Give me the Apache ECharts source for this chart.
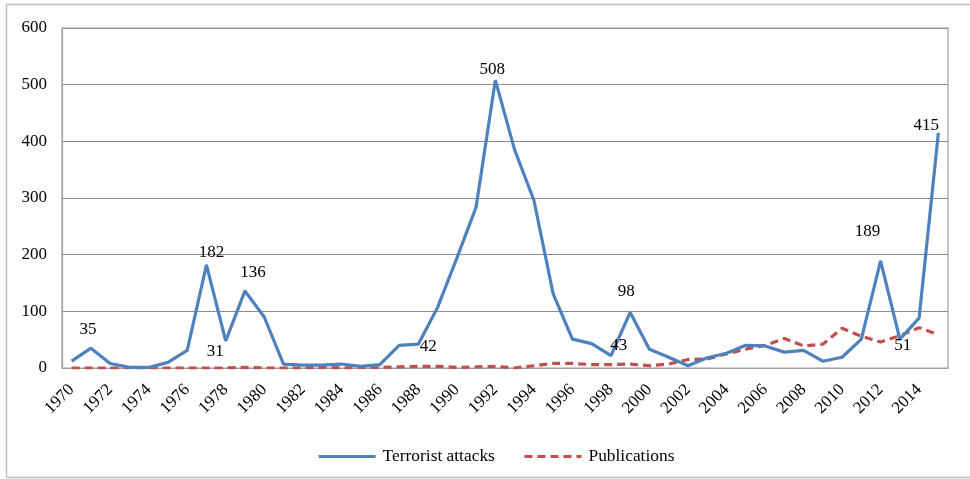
<!DOCTYPE html>
<html>
<head>
<meta charset="utf-8">
<script src="https://cdn.jsdelivr.net/npm/echarts@6/dist/echarts.min.js"></script>
<style>
html,body{margin:0;padding:0;background:#fff;}
#chart{width:970px;height:479px;}
</style>
</head>
<body>
<div id="chart"></div>
<script>
var years = [];
for (var y = 1970; y <= 2015; y++) years.push(String(y));

var terroristAttacks = [12,35,8,1,1,10,31,182,48,136,90,7,5,5,7,3,6,40,42,107,194,284,508,385,296,131,51,43,22,98,33,19,4,18,26,40,39,28,31,12,19,51,189,51,88,415];
var publications = [0,0,0,0,0,0,0,0,0,1,0,0,0,1,0,1,1,2,3,3,1,2,3,0,4,8,8,6,6,7,4,7,15,16,25,33,40,52,39,42,70,56,46,57,71,59];

var yTicks = [0,100,200,300,400,500,600];

// label placement (offset of label centre from point), styling only
var labelOffsets = {
  '1971': [-3,-19], '1976': [28,1], '1977': [5,-12], '1979': [8,-18],
  '1988': [10,2], '1992': [-3,-11], '1997': [27,2], '1999': [-4,-21],
  '2012': [-13,-29], '2013': [3,6], '2015': [-12,-7]
};

var font = 'Liberation Serif, Times New Roman, serif';

var attackData = terroristAttacks.map(function (v, i) {
  var off = labelOffsets[years[i]];
  if (!off) return v;
  return {
    value: v,
    symbol: 'circle',
    symbolSize: 1,
    label: { show: true, position: 'inside', offset: off, formatter: '{c}',
             color: '#000', fontFamily: font, fontSize: 17 }
  };
});

var chart = echarts.init(document.getElementById('chart'), null, {renderer: 'canvas'});
chart.setOption({
  animation: false,
  backgroundColor: '#fff',
  textStyle: { fontFamily: font },
  graphic: [{
    type: 'rect', silent: true, z: -1,
    shape: { x: 6.5, y: 4.5, width: 980, height: 473 },
    style: { fill: 'none', stroke: '#c0c0c0', lineWidth: 1.5 }
  }],
  grid: {
    left: 62, right: 22, top: 28, bottom: 111,
    show: true, borderColor: '#a0a0a0', borderWidth: 1.2, containLabel: false
  },
  legend: {
    left: 312, top: 443,
    itemWidth: 57, itemHeight: 14, itemGap: 28,
    itemStyle: { opacity: 0 },
    lineStyle: { width: 3.2 },
    textStyle: { fontFamily: font, fontSize: 17.4, color: '#000', padding: [0, 0, 0, 2] },
    data: ['Terrorist attacks', 'Publications']
  },
  xAxis: {
    type: 'category',
    data: years,
    boundaryGap: true,
    axisLine: { lineStyle: { color: '#a0a0a0', width: 1.2 } },
    axisTick: { show: false },
    axisLabel: { interval: 1, rotate: 45, margin: 19, fontFamily: font, fontSize: 17, color: '#000' },
    splitLine: { show: false }
  },
  yAxis: {
    type: 'value',
    min: yTicks[0], max: yTicks[yTicks.length - 1], interval: 100,
    axisLine: { show: true, lineStyle: { color: '#a0a0a0', width: 1.2 } },
    axisTick: { show: false },
    axisLabel: { margin: 15, fontFamily: font, fontSize: 17, color: '#000' },
    splitLine: { lineStyle: { color: '#8c8c8c', width: 1.2 } }
  },
  series: [
    {
      name: 'Publications',
      type: 'line',
      data: publications,
      symbol: 'none',
      z: 2,
      lineStyle: { color: '#C0504D', width: 3.2, type: [8, 5] },
      itemStyle: { color: '#C0504D' }
    },
    {
      name: 'Terrorist attacks',
      type: 'line',
      data: attackData,
      symbol: 'none',
      z: 3,
      lineStyle: { color: '#4F81BD', width: 3.2 },
      itemStyle: { color: '#4F81BD' }
    }
  ]
});
</script>
</body>
</html>
